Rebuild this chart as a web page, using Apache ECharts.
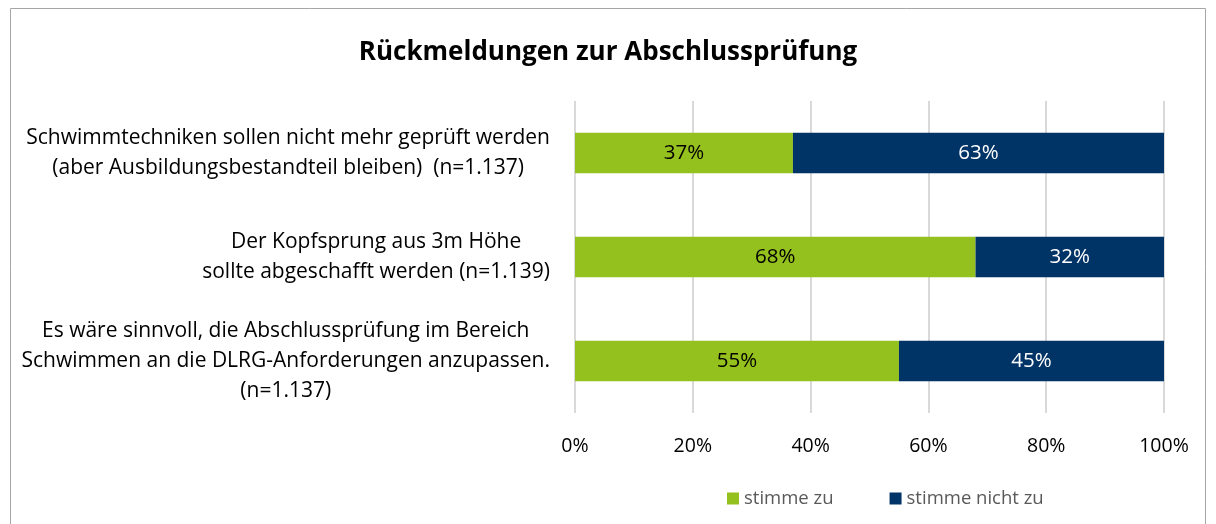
<!DOCTYPE html>
<html>
<head>
<meta charset="utf-8">
<script src="https://cdn.jsdelivr.net/npm/echarts@6/dist/echarts.min.js"></script>
<style>
  html, body { margin: 0; padding: 0; background: #fff; }
  #main { width: 1216px; height: 524px; }
</style>
</head>
<body>
<div id="main"></div>
<script>
// Rückmeldungen zur Abschlussprüfung – gestapelte 100%-Balken
var categories = [
    'Schwimmtechniken sollen nicht mehr geprüft werden\n(aber Ausbildungsbestandteil bleiben)  (n=1.137)',
    'Der Kopfsprung aus 3m Höhe\nsollte abgeschafft werden (n=1.139)',
    'Es wäre sinnvoll, die Abschlussprüfung im Bereich\nSchwimmen an die DLRG-Anforderungen anzupassen.\n(n=1.137)'
];
var zustimmung = [37, 68, 55];
var ablehnung = [63, 32, 45];
var seriesNames = ['stimme zu', 'stimme nicht zu'];
var xTicks = [0, 20, 40, 60, 80, 100];

var fontName = '"Open Sans", sans-serif';

var myChart = echarts.init(document.getElementById('main'));

// Kategorien zeilenweise zentriert (rich text)
function catLabel(value) {
    return value.split('\n').map(function (line) {
        return '{c|' + line + '}';
    }).join('\n');
}

myChart.setOption({
    animation: false,
    title: {
        text: 'Rückmeldungen zur Abschlussprüfung',
        left: 'center',
        top: 35,
        textStyle: {
            fontFamily: fontName,
            fontSize: 26,
            fontWeight: 'bold',
            color: '#000'
        }
    },
    graphic: [{
        type: 'rect',
        shape: { x: 10.5, y: 8.5, width: 1195, height: 540 },
        style: { fill: null, stroke: '#a6a6a6', lineWidth: 1 },
        silent: true
    }],
    legend: {
        data: seriesNames,
        bottom: 11,
        left: 722,
        itemWidth: 12,
        itemHeight: 12,
        itemGap: 56,
        icon: 'rect',
        textStyle: {
            fontFamily: fontName,
            fontSize: 18.5,
            color: '#595959'
        }
    },
    grid: {
        left: 575,
        right: 52,
        top: 101,
        bottom: 111,
        containLabel: false
    },
    xAxis: {
        type: 'value',
        min: 0,
        max: 100,
        interval: 20,
        axisLine: { show: false },
        axisTick: { show: false },
        splitLine: { lineStyle: { color: '#d9d9d9', width: 2 } },
        axisLabel: {
            margin: 23,
            fontFamily: fontName,
            fontSize: 19.5,
            color: '#000',
            formatter: function (v) {
                return xTicks.indexOf(v) >= 0 ? v + '%' : '';
            }
        }
    },
    yAxis: {
        type: 'category',
        data: categories,
        inverse: true,
        axisLine: { show: false },
        axisTick: { show: false },
        axisLabel: {
            margin: 25,
            formatter: catLabel,
            rich: {
                c: {
                    align: 'center',
                    fontFamily: fontName,
                    fontSize: 21,
                    lineHeight: 30,
                    color: '#000'
                }
            }
        }
    },
    series: [{
        name: seriesNames[0],
        type: 'bar',
        stack: 'total',
        barWidth: '39%',
        data: zustimmung,
        itemStyle: { color: '#95c11f' },
        label: {
            show: true,
            position: 'inside',
            formatter: '{c}%',
            fontFamily: fontName,
            fontSize: 20.5,
            color: '#000'
        }
    }, {
        name: seriesNames[1],
        type: 'bar',
        stack: 'total',
        barWidth: '39%',
        data: ablehnung,
        itemStyle: { color: '#003366' },
        label: {
            show: true,
            position: 'inside',
            formatter: '{c}%',
            fontFamily: fontName,
            fontSize: 20.5,
            color: '#fff'
        }
    }]
});
</script>
</body>
</html>
